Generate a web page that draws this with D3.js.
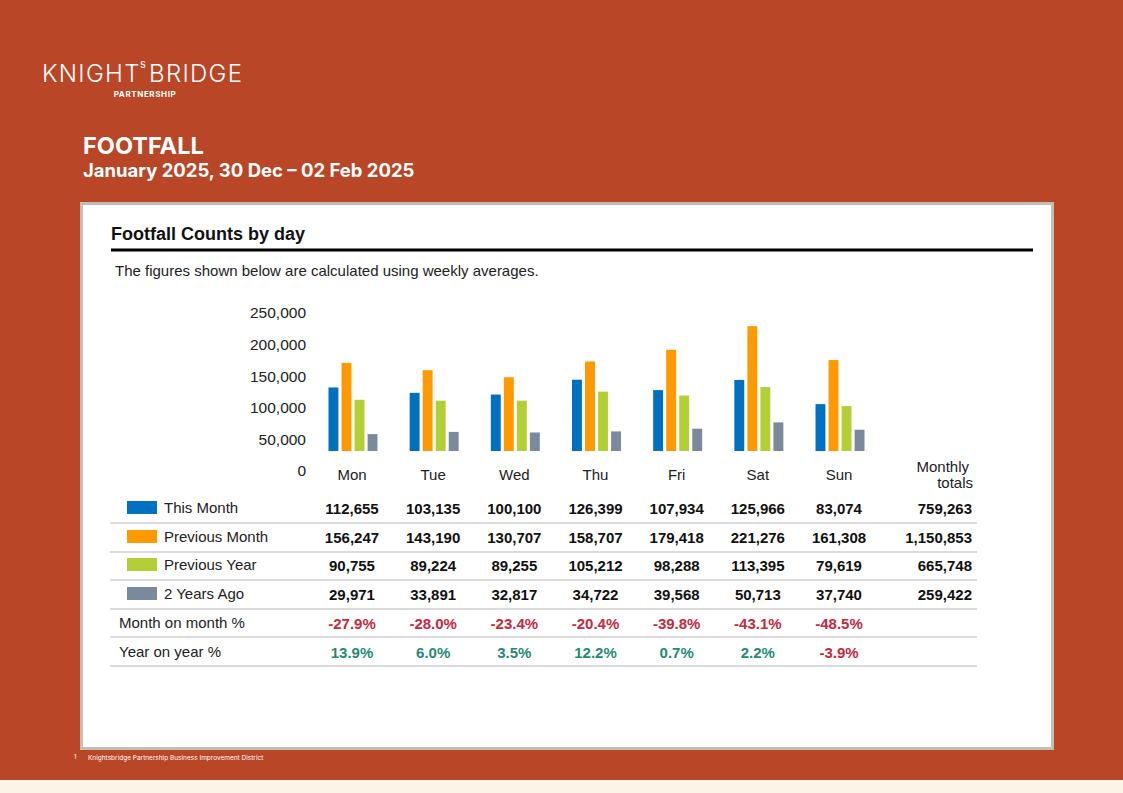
<!DOCTYPE html>
<html>
<head>
	<title>Footfall</title>
	<script src="https://cdnjs.cloudflare.com/ajax/libs/d3/7.8.5/d3.min.js"></script>
	<style>
		body { margin: 0; background: #fdf4e8; }
		svg { display: block; }
		text { font-family: "Liberation Sans", Arial, sans-serif; }
		.brand { font-family: Inter, "Noto Sans", sans-serif; fill: #fff; }
	</style>
</head>
<body>
<svg id="page" width="1123" height="793"></svg>
<script>
	const days = ["Mon", "Tue", "Wed", "Thu", "Fri", "Sat", "Sun"];
	const seriesNames = ["This Month", "Previous Month", "Previous Year", "2 Years Ago"];
	const seriesColors = ["#0070c0", "#ff9900", "#b3cf36", "#7a8a9c"];
	const thisMonth = [112655, 103135, 100100, 126399, 107934, 125966, 83074];
	const prevMonth = [156247, 143190, 130707, 158707, 179418, 221276, 161308];
	const prevYear = [90755, 89224, 89255, 105212, 98288, 113395, 79619];
	const twoYearsAgo = [29971, 33891, 32817, 34722, 39568, 50713, 37740];
	const monthlyTotals = ["759,263", "1,150,853", "665,748", "259,422"];
	const momPct = [-27.9, -28.0, -23.4, -20.4, -39.8, -43.1, -48.5];
	const yoyPct = [13.9, 6.0, 3.5, 12.2, 0.7, 2.2, -3.9];
	const yTicks = [0, 50000, 100000, 150000, 200000, 250000];

	const series = [thisMonth, prevMonth, prevYear, twoYearsAgo];
	const svg = d3.select("#page");
	const fmt = d3.format(",");

	// page background + panel
	svg.append("rect").attr("width", 1123).attr("height", 780).attr("fill", "#b94626");
	svg.append("rect").attr("x", 81.5).attr("y", 203.5).attr("width", 971).attr("height", 545)
		.attr("fill", "#fff").attr("stroke", "#bfbfb4").attr("stroke-width", 3);

	// logo
	svg.append("text").attr("class", "brand").attr("x", 42).attr("y", 82)
		.style("font-size", "24px").style("font-weight", 300).style("letter-spacing", "1.3px")
		.text("KNIGHT");
	svg.append("text").attr("class", "brand").attr("x", 140).attr("y", 68)
		.style("font-size", "11px").text("s");
	svg.append("text").attr("class", "brand").attr("x", 149).attr("y", 82)
		.style("font-size", "24px").style("font-weight", 300).style("letter-spacing", "1.3px")
		.text("BRIDGE");
	svg.append("text").attr("class", "brand").attr("x", 145).attr("y", 97).attr("text-anchor", "middle")
		.style("font-size", "8px").style("font-weight", 700).style("letter-spacing", "0.6px")
		.text("PARTNERSHIP");

	svg.append("text").attr("class", "brand").attr("x", 83).attr("y", 154)
		.style("font-size", "23.5px").style("font-weight", 700).text("FOOTFALL");
	svg.append("text").attr("class", "brand").attr("x", 83).attr("y", 177)
		.style("font-size", "18.5px").style("font-weight", 700).text("January 2025, 30 Dec \u2013 02 Feb 2025");

	// footer
	svg.append("text").attr("class", "brand").attr("x", 74).attr("y", 759).style("font-size", "6px").text("1");
	svg.append("text").attr("class", "brand").attr("x", 88).attr("y", 760).style("font-size", "6.5px")
		.text("Knightsbridge Partnership Business Improvement District");

	// panel heading
	svg.append("text").attr("x", 111).attr("y", 240).style("font-size", "18px").style("font-weight", 700)
		.attr("fill", "#111").text("Footfall Counts by day");
	svg.append("line").attr("x1", 111).attr("x2", 1033).attr("y1", 250).attr("y2", 250)
		.attr("stroke", "#000").attr("stroke-width", 3);
	svg.append("text").attr("x", 115).attr("y", 276).style("font-size", "15px")
		.attr("fill", "#222").text("The figures shown below are calculated using weekly averages.");

	// scales
	const x = d3.scaleBand().domain(days).range([311.4, 879.6]);
	const xs = d3.scaleBand().domain(d3.range(4)).range([0, 49]).paddingInner(0.24);
	const y = d3.scaleLinear().domain([0, 250000]).range([451, 310]);
	const yLabel = d3.scaleLinear().domain([0, 250000]).range([471, 313]);

	// y tick labels
	const yAxis = svg.append("g").attr("transform", "translate(306,0)")
		.call(d3.axisLeft(yLabel).tickValues(yTicks).tickSize(0).tickPadding(0).tickFormat(fmt));
	yAxis.select(".domain").remove();
	yAxis.selectAll("text").style("font-size", "15.5px").attr("fill", "#222")
		.style("font-family", "'Liberation Sans', Arial, sans-serif");

	// bars
	const groups = svg.selectAll("g.day").data(days).join("g").attr("class", "day")
		.attr("transform", d => `translate(${x(d) + x.bandwidth() / 2 - 23.5},0)`);
	groups.selectAll("rect").data((d, i) => series.map((s, k) => ({ k, v: s[i] }))).join("rect")
		.attr("x", d => xs(d.k)).attr("width", xs.bandwidth())
		.attr("y", d => y(d.v)).attr("height", d => y(0) - y(d.v))
		.attr("fill", d => seriesColors[d.k]);

	// day labels
	svg.selectAll("text.dayLabel").data(days).join("text").attr("class", "dayLabel")
		.attr("x", d => x(d) + x.bandwidth() / 2).attr("y", 480).attr("text-anchor", "middle")
		.style("font-size", "15px").attr("fill", "#222").text(d => d);
	svg.append("text").attr("x", 969).attr("y", 472).attr("text-anchor", "end")
		.style("font-size", "15px").attr("fill", "#222").text("Monthly");
	svg.append("text").attr("x", 973).attr("y", 488).attr("text-anchor", "end")
		.style("font-size", "15px").attr("fill", "#222").text("totals");

	// table
	const rowY = [508, 537, 565, 594, 623, 652];
	const lineY = [523, 552, 580, 609, 637, 666];
	svg.selectAll("line.row").data(lineY).join("line").attr("class", "row")
		.attr("x1", 110).attr("x2", 977).attr("y1", d => d).attr("y2", d => d)
		.attr("stroke", "#cfcfcf").attr("stroke-width", 1.5);

	seriesNames.forEach((name, k) => {
		svg.append("rect").attr("x", 127).attr("y", rowY[k] - 7).attr("width", 30).attr("height", 13)
			.attr("fill", seriesColors[k]);
		svg.append("text").attr("x", 164).attr("y", rowY[k] + 5).style("font-size", "15px")
			.attr("fill", "#222").text(name);
		svg.selectAll(null).data(series[k]).join("text")
			.attr("x", (d, i) => x(days[i]) + x.bandwidth() / 2).attr("y", rowY[k] + 6)
			.attr("text-anchor", "middle").style("font-size", "15px").style("font-weight", 700)
			.attr("fill", "#111").text(d => fmt(d));
		svg.append("text").attr("x", 972).attr("y", rowY[k] + 6).attr("text-anchor", "end")
			.style("font-size", "15px").style("font-weight", 700).attr("fill", "#111").text(monthlyTotals[k]);
	});

	const pctRows = [["Month on month %", momPct], ["Year on year %", yoyPct]];
	pctRows.forEach(([label, vals], j) => {
		const yy = rowY[4 + j];
		svg.append("text").attr("x", 119).attr("y", yy + 5).style("font-size", "15px")
			.attr("fill", "#222").text(label);
		svg.selectAll(null).data(vals).join("text")
			.attr("x", (d, i) => x(days[i]) + x.bandwidth() / 2).attr("y", yy + 6)
			.attr("text-anchor", "middle").style("font-size", "15px").style("font-weight", 700)
			.attr("fill", d => d < 0 ? "#c8283c" : "#1f8c72")
			.text(d => d.toFixed(1) + "%");
	});
</script>
</body>
</html>
